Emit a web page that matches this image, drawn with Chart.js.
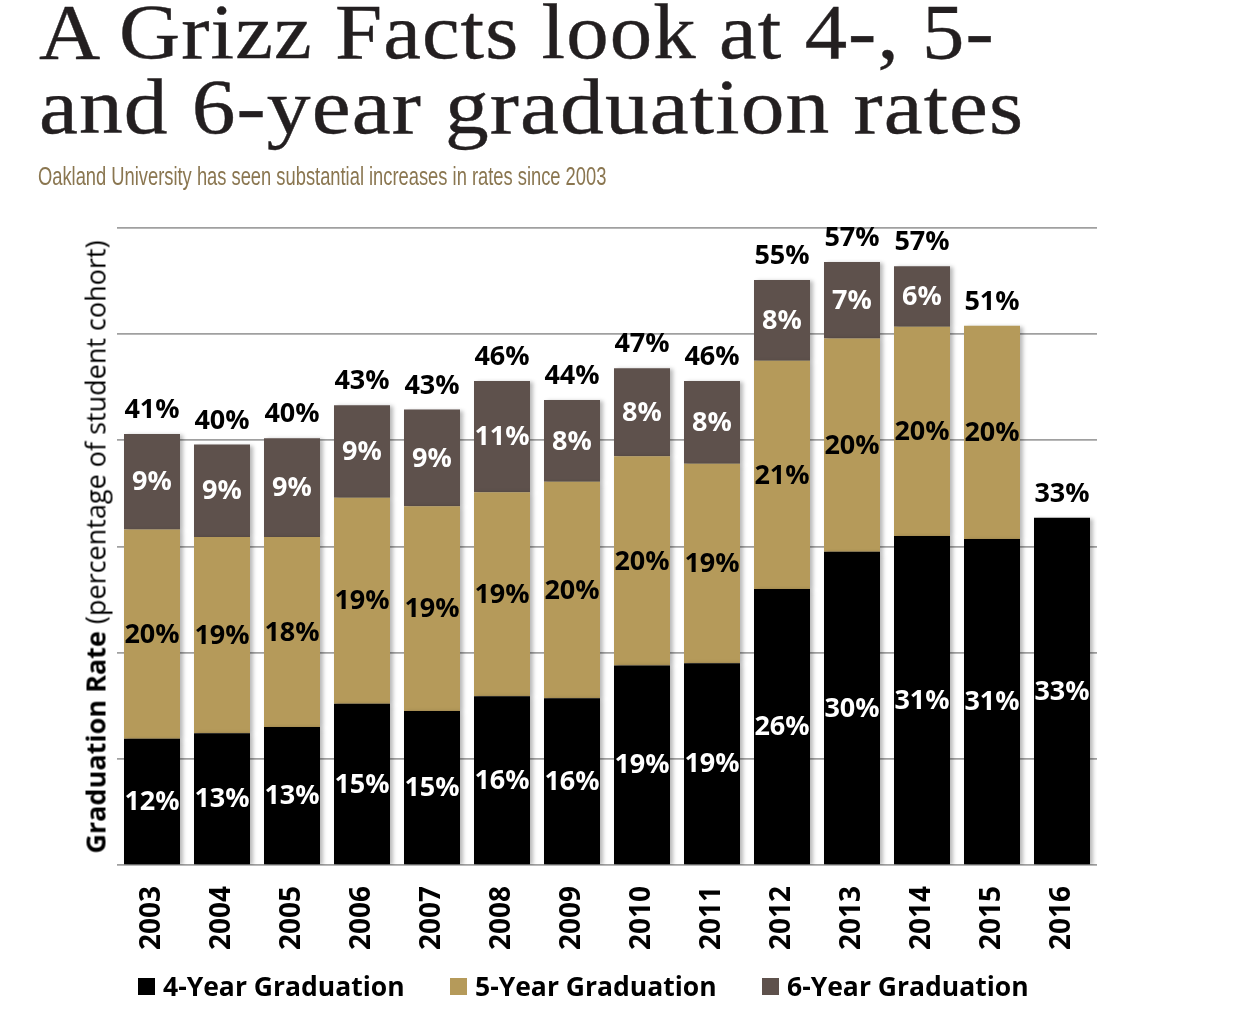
<!DOCTYPE html>
<html>
<head>
<meta charset="utf-8">
<script src="https://cdn.jsdelivr.net/npm/chart.js@4.4.1/dist/chart.umd.min.js"></script>
<style>
  body { margin: 0; background: #fff; }
  #page { position: relative; width: 1241px; height: 1022px; overflow: hidden; }
  #gradCanvas { position: absolute; left: 0; top: 0; }
  .title {
    position: absolute; left: 39px;
    font-family: "Liberation Serif", serif; font-size: 78px; line-height: 75px;
    letter-spacing: 1px; color: #231f20; white-space: nowrap;
    -webkit-text-stroke: 0.4px #231f20;
    transform-origin: 0 50%;
  }
  .t1 { top: -6px; transform: scaleX(1.087); }
  .t2 { top: 69px; transform: scaleX(1.122); }
  .subtitle {
    position: absolute; left: 38px; top: 162px;
    font-family: "Liberation Sans", sans-serif; font-size: 25px;
    color: #8a7650; white-space: nowrap;
    transform-origin: 0 50%; transform: scaleX(0.733);
  }
  .ytitle {
    position: absolute; left: 95px; top: 547px;
    transform: translate(-50%, -50%) rotate(-90deg);
    font-family: "Open Sans", sans-serif; font-size: 27px; color: #000; white-space: nowrap;
  }
  .ytitle b { font-weight: 700; }
  .legend-item {
    position: absolute; top: 968px; display: flex; align-items: center;
    font-family: "Open Sans", sans-serif; font-weight: 700; font-size: 26.5px; color: #000;
    white-space: nowrap;
  }
  .legend-item span.box { display: inline-block; width: 17px; height: 17px; margin-right: 8px; }
</style>
</head>
<body>
<div id="page">
  <canvas id="gradCanvas" width="1241" height="1022"></canvas>
  <div class="title t1">A Grizz Facts look at 4-, 5-</div>
  <div class="title t2">and 6-year graduation rates</div>
  <div class="subtitle">Oakland University has seen substantial increases in rates since 2003</div>
  <div class="ytitle"><b>Graduation Rate</b> (percentage of student cohort)</div>
  <div id="legend"></div>
</div>

<script>
// years on the x axis
var years = ['2003', '2004', '2005', '2006', '2007', '2008', '2009', '2010', '2011', '2012', '2013', '2014', '2015', '2016'];

// bar heights (percent of cohort)
var fourYear = [11.9, 12.4, 13.0, 15.2, 14.5, 15.9, 15.7, 18.8, 19.0, 26.0, 29.5, 31.0, 30.7, 32.7];
var fiveYear = [19.7, 18.5, 17.9, 19.4, 19.3, 19.2, 20.4, 19.7, 18.8, 21.5, 20.1, 19.7, 20.1, null];
var sixYear  = [9.0, 8.7, 9.3, 8.7, 9.1, 10.5, 7.7, 8.3, 7.8, 7.6, 7.2, 5.7, null, null];

// the printed labels
var fourYearLabels = [12, 13, 13, 15, 15, 16, 16, 19, 19, 26, 30, 31, 31, 33];
var fiveYearLabels = [20, 19, 18, 19, 19, 19, 20, 20, 19, 21, 20, 20, 20, null];
var sixYearLabels  = [9, 9, 9, 9, 9, 11, 8, 8, 8, 8, 7, 6, null, null];
var totalLabels    = [41, 40, 40, 43, 43, 46, 44, 47, 46, 55, 57, 57, 51, 33];

var seriesNames = ['4-Year Graduation', '5-Year Graduation', '6-Year Graduation'];
var seriesColors = ['#000000', '#b59a5a', '#5e514c'];
var legendX = [138, 450, 762];

var labelFont = 'bold 27px "Open Sans", sans-serif';

// soft shadow on the bars
var barShadow = {
    id: 'barShadow',
    beforeDatasetDraw: function(chart) {
        var ctx = chart.ctx;
        ctx.save();
        ctx.shadowColor = 'rgba(0, 0, 0, 0.28)';
        ctx.shadowBlur = 4;
        ctx.shadowOffsetX = 3;
        ctx.shadowOffsetY = 1;
    },
    afterDatasetDraw: function(chart) {
        chart.ctx.restore();
    }
};

// numbers inside the segments and totals on top
var barLabels = {
    id: 'barLabels',
    afterDatasetsDraw: function(chart) {
        var ctx = chart.ctx;
        ctx.save();
        ctx.font = labelFont;
        ctx.textAlign = 'center';
        ctx.textBaseline = 'middle';

        chart.data.datasets.forEach(function(ds, i) {
            var meta = chart.getDatasetMeta(i);
            meta.data.forEach(function(bar, j) {
                if (ds.data[j] == null || ds.shown[j] == null)
                    return;
                ctx.fillStyle = ds.labelColor;
                ctx.fillText(ds.shown[j] + '%', bar.x, (bar.y + bar.base) / 2 + 1);
            });
        });

        var yScale = chart.scales.y;
        var xScale = chart.scales.x;
        ctx.fillStyle = '#000';
        ctx.textBaseline = 'alphabetic';
        for (var j = 0; j < years.length; j++) {
            var sum = (fourYear[j] || 0) + (fiveYear[j] || 0) + (sixYear[j] || 0);
            var top = yScale.getPixelForValue(sum);
            ctx.fillText(totalLabels[j] + '%', xScale.getPixelForValue(j), top - 16);
        }
        ctx.restore();
    }
};

var ctx = document.getElementById('gradCanvas');

var myChart = new Chart(ctx, {
    type: 'bar',
    data: {
        labels: years,
        datasets: [
            { label: seriesNames[0], data: fourYear, shown: fourYearLabels, backgroundColor: seriesColors[0], labelColor: '#ffffff' },
            { label: seriesNames[1], data: fiveYear, shown: fiveYearLabels, backgroundColor: seriesColors[1], labelColor: '#000000' },
            { label: seriesNames[2], data: sixYear, shown: sixYearLabels, backgroundColor: seriesColors[2], labelColor: '#ffffff' }
        ]
    },
    options: {
        responsive: false,
        animation: false,
        barPercentage: 0.8,
        categoryPercentage: 1.0,
        layout: {
            padding: { left: 117, right: 144, top: 228, bottom: 57 }
        },
        plugins: {
            legend: { display: false },
            tooltip: { enabled: false }
        },
        scales: {
            x: {
                stacked: true,
                grid: { display: false, drawTicks: false },
                border: { display: false },
                ticks: {
                    autoSkip: false,
                    minRotation: 90,
                    maxRotation: 90,
                    padding: 21,
                    color: '#000',
                    font: { family: '"Open Sans", sans-serif', size: 28, weight: 'bold' }
                },
                afterFit: function(scale) {
                    scale.height = 100;
                }
            },
            y: {
                stacked: true,
                min: 0,
                max: 60,
                ticks: { display: false, stepSize: 10 },
                grid: { color: '#a0a0a0', lineWidth: 1.7, drawTicks: false },
                border: { display: false }
            }
        }
    },
    plugins: [barShadow, barLabels]
});

// legend under the chart
var legendDiv = document.getElementById('legend');
for (var i = 0; i < seriesNames.length; i++) {
    var item = document.createElement('div');
    item.className = 'legend-item';
    item.style.left = legendX[i] + 'px';
    var box = document.createElement('span');
    box.className = 'box';
    box.style.background = seriesColors[i];
    item.appendChild(box);
    item.appendChild(document.createTextNode(seriesNames[i]));
    legendDiv.appendChild(item);
}
</script>
</body>
</html>
